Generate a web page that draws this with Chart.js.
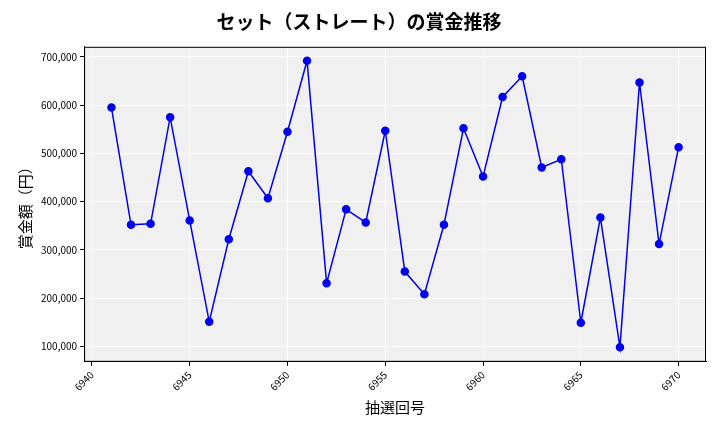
<!DOCTYPE html>
<html>
<head>
<meta charset="utf-8">
<script src="https://cdn.jsdelivr.net/npm/chart.js@4"></script>
<style>
  body { margin: 0; background: #fff; }
  #wrap { width: 720px; height: 432px; }
</style>
</head>
<body>
<div id="wrap"><canvas id="chart"></canvas></div>
<script>
// draw numbers
const draws = [6941, 6942, 6943, 6944, 6945, 6946, 6947, 6948, 6949, 6950,
  6951, 6952, 6953, 6954, 6955, 6956, 6957, 6958, 6959, 6960,
  6961, 6962, 6963, 6964, 6965, 6966, 6967, 6968, 6969, 6970];
// prize amounts (yen)
const prizes = [595000, 352000, 354000, 575000, 361000, 151000, 322000, 463000, 407000, 545000,
  692000, 231000, 384000, 357000, 547000, 255000, 208000, 352000, 552000, 452000,
  617000, 660000, 471000, 488000, 149000, 367000, 98000, 647000, 312000, 513000];

const plotBg = {
  id: 'plotBg',
  beforeDraw(chart) {
    const { ctx, chartArea: a } = chart;
    ctx.save();
    ctx.fillStyle = '#f0f0f0';
    ctx.fillRect(a.left, a.top, a.right - a.left, a.bottom - a.top);
    ctx.restore();
  },
  afterDraw(chart) {
    const { ctx, chartArea: a } = chart;
    ctx.save();
    ctx.strokeStyle = '#000';
    ctx.lineWidth = 1;
    ctx.strokeRect(a.left + 0.5, a.top + 0.5, a.right - a.left - 1, a.bottom - a.top - 1);
    ctx.restore();
  }
};

const font = "'Noto Sans CJK JP', 'DejaVu Sans', sans-serif";

new Chart(document.getElementById('chart'), {
  type: 'line',
  data: {
    datasets: [{
      data: draws.map((d, i) => ({ x: d, y: prizes[i] })),
      borderColor: '#0000ee',
      backgroundColor: '#0000ee',
      borderWidth: 1.5,
      pointRadius: 3.5,
      tension: 0
    }]
  },
  options: {
    responsive: true,
    maintainAspectRatio: false,
    animation: false,
    layout: { padding: { left: 12, right: 14, top: 10, bottom: 12 } },
    plugins: {
      legend: { display: false },
      tooltip: { enabled: false },
      title: {
        display: true,
        text: 'セット（ストレート）の賞金推移',
        color: '#000',
        font: { family: font, size: 19, weight: 'bold' },
        padding: { top: 0, bottom: 14 }
      }
    },
    scales: {
      x: {
        type: 'linear',
        min: 6939.6,
        max: 6971.4,
        afterBuildTicks(axis) {
          axis.ticks = [6940, 6945, 6950, 6955, 6960, 6965, 6970].map(v => ({ value: v }));
        },
        grid: { color: '#ffffff', lineWidth: 1, tickColor: '#000', tickLength: 4 },
        border: { color: '#000' },
        ticks: {
          color: '#000',
          font: { family: font, size: 10 },
          maxRotation: 45, minRotation: 45,
          callback: v => String(v)
        },
        title: { display: true, text: '抽選回号', color: '#000', font: { family: font, size: 15 }, padding: { top: 2 } }
      },
      y: {
        min: 68000,
        max: 721000,
        afterBuildTicks(axis) {
          axis.ticks = [100000, 200000, 300000, 400000, 500000, 600000, 700000].map(v => ({ value: v }));
        },
        grid: { color: '#ffffff', lineWidth: 1, tickColor: '#000', tickLength: 4 },
        border: { color: '#000' },
        ticks: {
          color: '#000',
          font: { family: font, size: 10 },
          callback: v => v.toLocaleString('en-US')
        },
        title: { display: true, text: '賞金額（円）', color: '#000', font: { family: font, size: 15 } }
      }
    }
  },
  plugins: [plotBg]
});
</script>
</body>
</html>
